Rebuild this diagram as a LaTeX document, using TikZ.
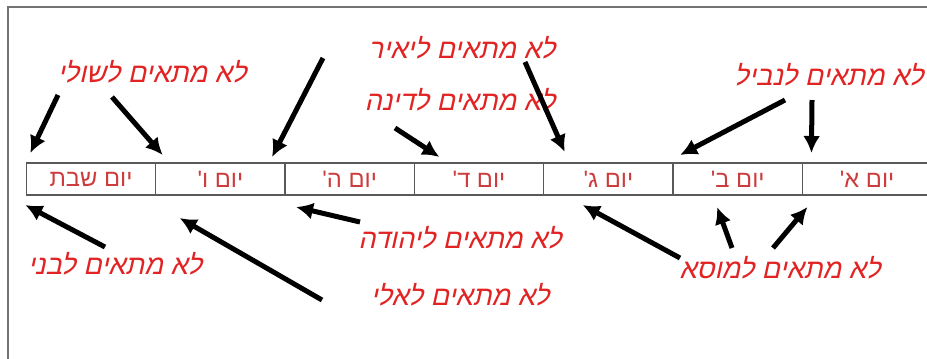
\documentclass[tikz,border=0pt]{standalone}
\usepackage{fontspec}
\setmainfont{Liberation Sans}
\newfontfamily\hebfont[Script=Hebrew]{Liberation Sans}
\newfontfamily\hebslant[Script=Hebrew,FakeSlant=0.22]{Liberation Sans}
\TeXXeTstate=1
\newcommand{\rtl}[1]{\beginR#1\endR}
\usepackage{tikz}
\definecolor{daytext}{RGB}{205, 60, 60}
\definecolor{notetext}{RGB}{225, 35, 35}
\definecolor{framegray}{RGB}{115, 115, 115}
\usetikzlibrary{arrows.meta, positioning}

\begin{document}
\begin{tikzpicture}[x=0.2mm, y=-0.2mm,
					>={Latex[length=3.4mm, width=3.4mm]},   %Pfeilspitzen
					daybox/.style={draw=gray!70!black, line width=0.3mm, minimum width=25.87mm, minimum height=6.4mm,
						inner sep=0pt, outer sep=0pt, text=daytext, font=\hebfont\fontsize{13.5}{15}\selectfont},
					note/.style={text=notetext, font=\hebslant\fontsize{15.5}{17}\selectfont, inner sep=1pt},
					pointer/.style={->, line width=1mm}]
					\useasboundingbox (0,0) rectangle (927,358);
					% Rahmen
					\draw[framegray, line width=0.45mm] (8,370) -- (8,7) -- (940,7);
					% Tage
					\node[daybox] (shabbat) at (91,179) {\rtl{יום שבת}};
					\node[daybox, right=0pt of shabbat] (fri) {\rtl{יום ו'}};
					\node[daybox, right=0pt of fri] (thu) {\rtl{יום ה'}};
					\node[daybox, right=0pt of thu] (wed) {\rtl{יום ד'}};
					\node[daybox, right=0pt of wed] (tue) {\rtl{יום ג'}};
					\node[daybox, right=0pt of tue] (mon) {\rtl{יום ב'}};
					\node[daybox, right=0pt of mon] (sun) {\rtl{יום א'}};
					% Beschriftungen
					\node[note] (shuli) at (152,72) {\rtl{לא מתאים לשולי}};
					\node[note] (yair) at (462,48) {\rtl{לא מתאים ליאיר}};
					\node[note] (dina) at (460,100) {\rtl{לא מתאים לדינה}};
					\node[note] (nabil) at (829,75) {\rtl{לא מתאים לנביל}};
					\node[note] (yehuda) at (460,238) {\rtl{לא מתאים ליהודה}};
					\node[note] (beni) at (115,264) {\rtl{לא מתאים לבני}};
					\node[note] (eli) at (460,295) {\rtl{לא מתאים לאלי}};
					\node[note] (musa) at (780,268) {\rtl{לא מתאים למוסא}};
					% Pfeilenden
					\coordinate (shuliA) at (58,95);
					\coordinate (shuliB) at (112,97);
					\coordinate (freeA) at (323,58);
					\coordinate (dinaA) at (395,128);
					\coordinate (yairA) at (525,62);
					\coordinate (nabilA) at (785,100);
					\coordinate (nabilB) at (812,100);
					\coordinate (beniA) at (105,247);
					\coordinate (eliA) at (322,300);
					\coordinate (yehudaA) at (360,222);
					\coordinate (musaA) at (680,258);
					\coordinate (musaB) at (732,248);
					\coordinate (musaC) at (773,248);
					% Pfeile oben
					\draw[pointer] (shuliA) -- ([shift={(4,-10)}]shabbat.north west);
					\draw[pointer] (shuliB) -- ([shift={(7,-8)}]fri.north west);
					\draw[pointer] (freeA) -- ([shift={(-13,-6)}]fri.north east);
					\draw[pointer] (dinaA) -- ([shift={(25,-6)}]wed.north west);
					\draw[pointer] (yairA) -- ([shift={(21,-11)}]tue.north west);
					\draw[pointer] (nabilA) -- ([shift={(7,-8)}]mon.north west);
					\draw[pointer] (nabilB) -- ([shift={(9,-10)}]sun.north west);
					% Pfeile unten
					\draw[pointer] (beniA) -- ([shift={(-1,10)}]shabbat.south west);
					\draw[pointer] (eliA) -- ([shift={(24,23)}]fri.south west);
					\draw[pointer] (yehudaA) -- ([shift={(11,12)}]thu.south west);
					\draw[pointer] (musaA) -- ([shift={(39,10)}]tue.south west);
					\draw[pointer] (musaB) -- ([shift={(44,12)}]mon.south west);
					\draw[pointer] (musaC) -- ([shift={(5,12)}]sun.south west);
\end{tikzpicture}
\end{document}
